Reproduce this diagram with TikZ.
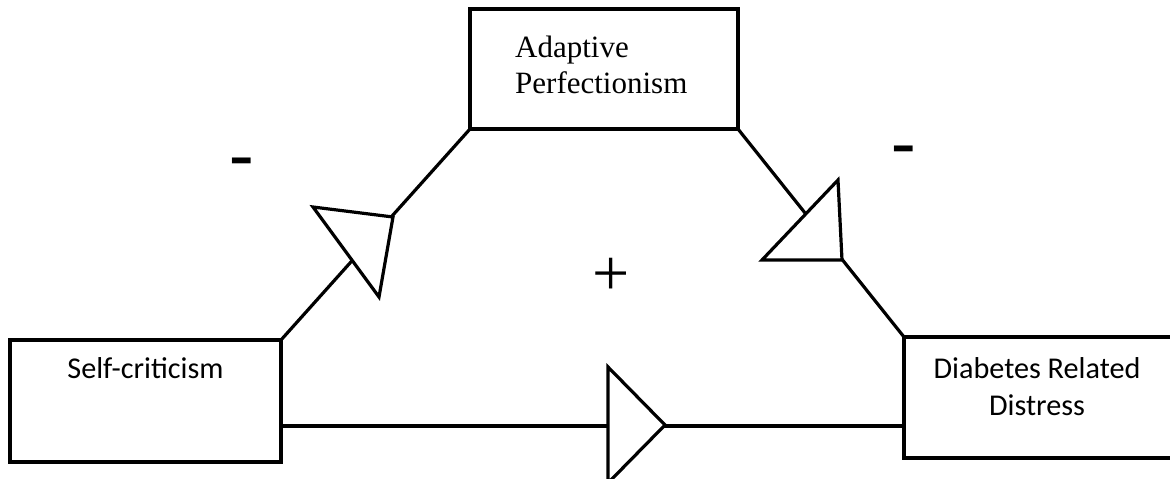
\documentclass[tikz,border=0pt]{standalone}
\usepackage{fontspec}
\newfontfamily\calibrifont{Carlito}
\newfontfamily\timesfont{Liberation Serif}
\begin{document}
\begin{tikzpicture}[x=1pt,y=-1pt,
  box/.style={draw=black,line width=3.2pt,inner sep=0pt,outer sep=0pt,anchor=north west,fill=white},
  conn/.style={draw=black,line width=3.2pt},
  tri/.style={draw=black,line width=3.2pt,fill=white,line join=miter},
  sign/.style={inner sep=0pt,anchor=base}]
\useasboundingbox (0,0) rectangle (1170,479);
% boxes
\node[box,minimum width=271pt,minimum height=122pt] (sc) at (10,340) {};
\node[box,minimum width=268pt,minimum height=120pt] (ap) at (470,9) {};
\node[box,minimum width=270pt,minimum height=121pt] (dr) at (904,337) {};
% texts
\node[sign,font=\calibrifont\fontsize{30.2}{37}\selectfont] (sct) at (145.5,378) {Self-criticism};
\node[inner sep=0pt,anchor=base west,align=left,font=\timesfont\fontsize{31}{36}\selectfont] (apt) at (515,93) {Adaptive\\Perfectionism};
\node[inner sep=0pt,anchor=base,align=center,font=\calibrifont\fontsize{30.2}{37}\selectfont] (drt) at (1037,415) {Diabetes Related\\Distress};
% connectors
\coordinate (b) at (0,426);
\draw[conn] (sc.north east) -- (ap.south west);
\draw[conn] (ap.south east) -- (dr.north west);
\draw[conn] (sc.east |- b) -- (dr.west |- b);
% triangles
\draw[tri] (313,207) -- (393,217) -- (379,297) -- cycle;
\draw[tri] (838,180) -- (842,260) -- (762,260) -- cycle;
\draw[tri] (608,367) -- (665,425) -- (608,483) -- cycle;
% signs
\node[sign,font=\calibrifont\fontsize{80}{80}\selectfont] (m1) at (242,183) {-};
\node[sign,font=\calibrifont\fontsize{80}{80}\selectfont] (m2) at (904,171) {-};
\node[sign,font=\timesfont\fontsize{66}{66}\selectfont] (p1) at (611,295) {+};
\end{tikzpicture}
\end{document}
